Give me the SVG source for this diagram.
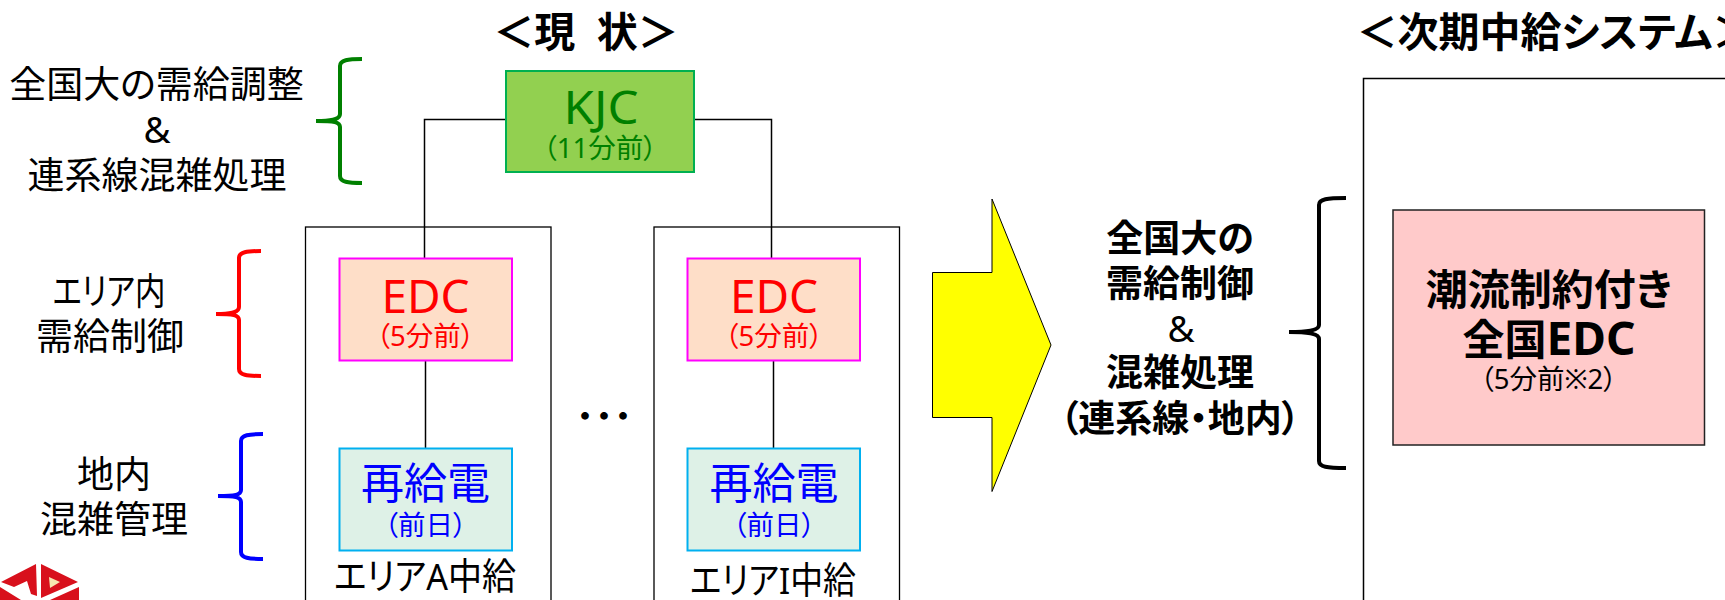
<svg xmlns="http://www.w3.org/2000/svg" width="1725" height="600" viewBox="0 0 1725 600">
<style>
text{font-family:"Noto Sans","Noto Sans CJK JP",sans-serif;text-anchor:middle;font-feature-settings:"palt";fill:#000}
.l{font-size:37px}
.b{font-size:37px;font-weight:700}
.t{font-size:41px;font-weight:700}
.h{font-size:42px;font-weight:700}
.m{font-size:46px}
.z{font-size:43px}
.s{font-size:27.500px}
.k{fill:#008000}.r{fill:#f00}.u{fill:#00f}
.brace{fill:none;stroke-width:4}
.c{fill:none;stroke:#000;stroke-width:1.5}
.area{fill:#fff;stroke:#000;stroke-width:1.3}
</style>
<rect width="1725" height="600" fill="#fff"/>
<g id="logo">
<path fill="#d8101c" d="M36 564 L1 582 L14 587 L27 581 L31 594 L37 596 Z M41 564 L41 598 L78 582 Z M0 587 L0 600 L21 600 Z M79 587 L50 600 L79 600 Z"/>
<path fill="#f6e6b0" d="M49 577 L60 582 L50 588 Z"/>
</g>
<text class="t" x="586" y="47" xml:space="preserve">＜現  状＞</text>
<text class="t" x="1555" y="47">＜次期中給システム＞</text>
<g id="labels">
<text class="l" x="156.500" y="98">全国大の需給調整</text>
<text class="l" x="157" y="143">&amp;</text>
<text class="l" x="157" y="189">連系線混雑処理</text>
<text class="l" x="109" y="305" textLength="113" lengthAdjust="spacingAndGlyphs">エリア内</text>
<text class="l" x="110" y="350">需給制御</text>
<text class="l" x="114" y="488">地内</text>
<text class="l" x="114" y="533">混雑管理</text>
</g>
<g id="braces">
<path class="brace" stroke="#008000" d="M362 59 C348 59 340 60 340 66 L340 114 C340 119 334 121 316 121 C334 121 340 122 340 127 L340 176 C340 182 348 183 362 183"/>
<path class="brace" stroke="#f00" d="M261 251 C247 251 239 252 239 258 L239 307 C239 312 233 314 216 314 C233 314 239 315 239 320 L239 369 C239 375 247 376 261 376"/>
<path class="brace" stroke="#00f" d="M263 434 C249 434 241 435 241 441 L241 490 C241 495 235 496 218 496 C235 496 241 497 241 502 L241 552 C241 558 249 559 263 559"/>
<path class="brace" stroke="#000" d="M1346 198 C1327 198 1319 199 1319 205 L1319 325 C1319 330 1310 332 1289 332 C1310 332 1319 334 1319 339 L1319 461 C1319 467 1327 468 1346 468"/>
</g>
<g id="area-a"><rect class="area" x="305.500" y="227" width="245.500" height="400"/></g>
<g id="area-i"><rect class="area" x="654" y="227" width="245.500" height="400"/></g>
<g id="connectors">
<path class="c" d="M506 119.500 H424.500 V258.500"/>
<path class="c" d="M694 119.500 H771.500 V258.500"/>
<path class="c" d="M425.500 360.500 V448.500"/>
<path class="c" d="M773.500 360.500 V448.500"/>
</g>
<g id="kjc">
<rect x="506" y="71" width="188" height="101" fill="#92d050" stroke="#00b050" stroke-width="2"/>
<text class="m k" x="601" y="123.500" textLength="75" lengthAdjust="spacingAndGlyphs">KJC</text>
<text class="s k" x="600" y="158">（11分前）</text>
</g>
<g id="edc-a">
<rect x="339.500" y="258.500" width="172.500" height="102" fill="#fedec8" stroke="#f0f" stroke-width="2"/>
<text class="m r" x="425.500" y="312.500">EDC</text>
<text class="s r" x="425.500" y="346">（5分前）</text>
</g>
<g id="edc-i">
<rect x="687.500" y="258.500" width="172.500" height="102" fill="#fedec8" stroke="#f0f" stroke-width="2"/>
<text class="m r" x="774" y="312.500">EDC</text>
<text class="s r" x="774" y="346">（5分前）</text>
</g>
<g id="redispatch-a">
<rect x="339.500" y="448.500" width="172.500" height="102" fill="#def1e7" stroke="#00b0f0" stroke-width="2"/>
<text class="z u" x="425.500" y="499">再給電</text>
<text class="s u" x="425.500" y="535">（前日）</text>
</g>
<g id="redispatch-i">
<rect x="687.500" y="448.500" width="172.500" height="102" fill="#def1e7" stroke="#00b0f0" stroke-width="2"/>
<text class="z u" x="774" y="499">再給電</text>
<text class="s u" x="774" y="535">（前日）</text>
</g>
<text class="l" x="425" y="590" textLength="182" lengthAdjust="spacingAndGlyphs">エリアA中給</text>
<text class="l" x="773" y="594" textLength="166" lengthAdjust="spacingAndGlyphs">エリアI中給</text>
<text x="570" y="427" style="font-size:30px;font-weight:700;letter-spacing:-11px;text-anchor:start;font-feature-settings:normal">・・・</text>
<g id="arrow"><path d="M932.500 272.500 H992 V199 L1051 345 L992 491.500 V417.500 H932.500 Z" fill="#ff0" stroke="#000" stroke-width="1"/></g>
<g id="next-labels">
<text class="b" x="1180" y="252">全国大の</text>
<text class="b" x="1180" y="297">需給制御</text>
<text class="l" x="1181" y="342">&amp;</text>
<text class="b" x="1180" y="386">混雑処理</text>
<text class="b" x="1180" y="432">（連系線・地内）</text>
</g>
<g id="next-system">
<rect x="1363.500" y="78.500" width="400" height="560" fill="none" stroke="#000" stroke-width="1.500"/>
</g>
<g id="national-edc">
<rect x="1393" y="210" width="311.500" height="235" fill="#ffcaca" stroke="#222" stroke-width="1.500"/>
<text class="h" x="1549" y="305">潮流制約付き</text>
<text class="h" x="1549" y="355">全国<tspan style="font-size:46px">EDC</tspan></text>
<text class="s" x="1548.500" y="389">（5分前※2）</text>
</g>
</svg>
